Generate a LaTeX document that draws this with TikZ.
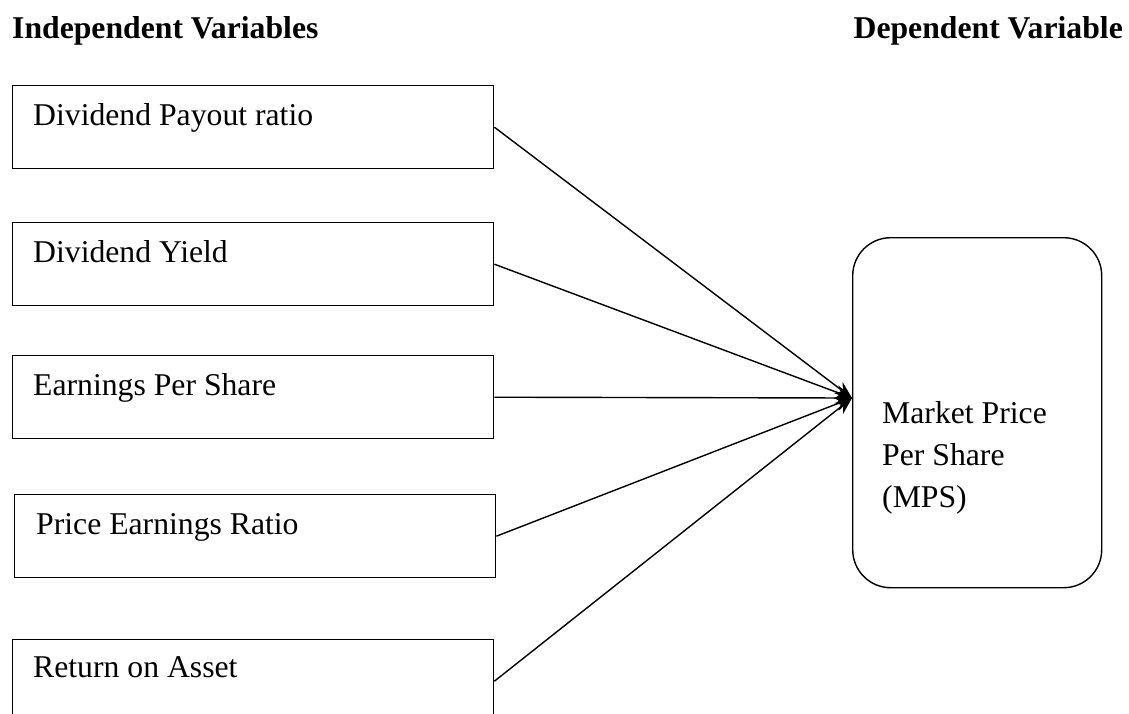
\documentclass[tikz,border=0pt]{standalone}
\usepackage{fontspec}
\setmainfont{Liberation Serif}
\usetikzlibrary{arrows.meta}
\begin{document}
\begin{tikzpicture}[x=1pt,y=-1pt,
  varbox/.style={draw, line width=1.4pt, minimum width=481pt, minimum height=83pt, anchor=north west, inner sep=0pt},
  vartext/.style={anchor=base west, inner sep=0pt, font=\fontsize{31.7}{40}\selectfont},
  headtext/.style={inner sep=0pt, font=\fontsize{31.7}{40}\selectfont\bfseries},
  link/.style={line width=1.4pt, -{Stealth[length=17pt,width=14pt]}},
  depbox/.style={draw, line width=1.4pt, rounded corners=38pt, minimum width=249pt, minimum height=350pt, anchor=north west, inner sep=0pt}]
\useasboundingbox (0,0) rectangle (1129,713);
\clip (0,0) rectangle (1129,713);
\node[headtext, anchor=base west] (hind) at (12,38) {Independent Variables};
\node[headtext, anchor=base east] (hdep) at (1123,38) {Dependent Variable};

\node[varbox] (b1) at (12,85) {};
\node[varbox] (b2) at (12,222) {};
\node[varbox] (b3) at (12,355) {};
\node[varbox] (b4) at (14,494) {};
\node[varbox] (b5) at (12,639) {};

\node[vartext] (t1) at (33,125) {Dividend Payout ratio};
\node[vartext] (t2) at (33,262) {Dividend Yield};
\node[vartext] (t3) at (33,395) {Earnings Per Share};
\node[vartext] (t4) at (36,534) {Price Earnings Ratio};
\node[vartext] (t5) at (33,677) {Return on Asset};

\node[depbox] (mps) at (852,237) {};
\node[anchor=base west, inner sep=0pt, align=left, font=\fontsize{31.7}{42}\selectfont] (mpst) at (882,507) {Market Price\\Per Share\\(MPS)};

\coordinate (tip) at (852,398);
\draw[link] (b1.east) -- (tip);
\draw[link] (b2.east) -- (tip);
\draw[link] (b3.east) -- (tip);
\draw[link] (b4.east) -- (tip);
\draw[link] (b5.east) -- (tip);
\end{tikzpicture}
\end{document}
